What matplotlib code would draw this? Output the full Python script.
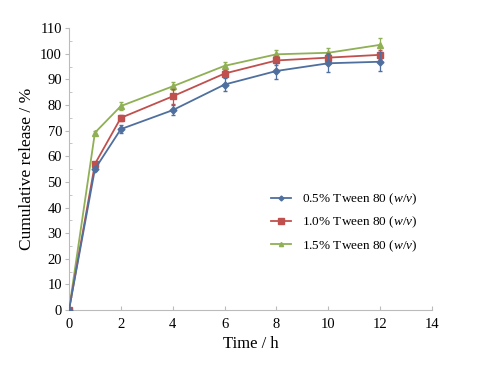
import numpy as np
import matplotlib.pyplot as plt
from matplotlib.ticker import MultipleLocator
from matplotlib.lines import Line2D

plt.rcParams['font.family'] = ['Liberation Serif', 'DejaVu Serif']
plt.rcParams['mathtext.fontset'] = 'custom'
plt.rcParams['mathtext.it'] = 'Liberation Serif:italic'
plt.rcParams['mathtext.rm'] = 'Liberation Serif'

time_h = [0, 1, 2, 4, 6, 8, 10, 12]

tw05 = [0, 55.0, 70.6, 78.0, 88.0, 93.3, 96.3, 96.9]
tw05_err = [0, 0.8, 1.5, 2.0, 2.5, 3.2, 3.5, 3.8]

tw10 = [0, 57.0, 75.0, 83.4, 92.3, 97.4, 98.5, 99.6]
tw10_err = [0, 0.8, 1.2, 3.0, 1.5, 1.8, 2.0, 1.8]

tw15 = [0, 69.2, 79.6, 87.3, 95.3, 99.8, 100.4, 103.5]
tw15_err = [0, 0.8, 1.5, 1.6, 1.6, 1.8, 2.0, 2.8]

labels = ['0.5% Tween 80 ($\\it{w/v}$)', '1.0% Tween 80 ($\\it{w/v}$)',
          '1.5% Tween 80 ($\\it{w/v}$)']

series = [
    (tw05, tw05_err, '#4f6f9f', 'D', 3.5),
    (tw10, tw10_err, '#c0504d', 's', 5),
    (tw15, tw15_err, '#8fb055', '^', 5),
]

fig = plt.figure(figsize=(4.79, 3.66), dpi=100)
ax = fig.add_axes([0.144, 0.153, 0.758, 0.770])

handles = []
for i, (vals, err, col, mk, ms) in enumerate(series):
    ax.errorbar(time_h, vals, yerr=err, color=col, marker=mk, ms=ms,
                lw=1.3, elinewidth=0.9, capsize=1.5, zorder=3 - i)
    handles.append(Line2D([], [], color=col, marker=mk, lw=1.3,
                          ms=[2.5, 4.5, 3][i]))

ax.set_xlim(0, 14)
ax.set_ylim(0, 110)
ax.set_xticks(np.arange(0, 15, 2))
ax.set_yticks(np.arange(0, 111, 10))
ax.yaxis.set_minor_locator(MultipleLocator(5))

for s in ['top', 'right']:
    ax.spines[s].set_visible(False)
for s in ['left', 'bottom']:
    ax.spines[s].set_color('#bbbbbb')
ax.tick_params(axis='y', which='major', direction='out', length=3, color='#bbbbbb',
               labelsize=10.5, pad=2)
ax.tick_params(axis='y', which='minor', direction='in', length=2, color='#bbbbbb')
ax.tick_params(axis='x', direction='in', length=3, color='#bbbbbb', labelsize=10.5,
               pad=6)

ax.set_xlabel('Time / h', fontsize=12, labelpad=3)
ax.set_ylabel('Cumulative release / %', fontsize=12.5, labelpad=4)

ax.legend(handles, labels, loc='center left', bbox_to_anchor=(0.525, 0.31),
          frameon=False, fontsize=9.5, handlelength=1.5, labelspacing=0.6)

fig.savefig('out.png', dpi=100)
